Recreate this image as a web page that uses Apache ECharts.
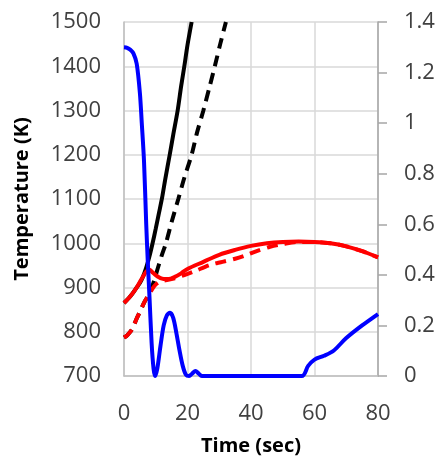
<!DOCTYPE html>
<html>
<head>
<meta charset="utf-8">
<script src="https://cdn.jsdelivr.net/npm/echarts@6/dist/echarts.min.js"></script>
<style>html,body{margin:0;padding:0;background:#fff}#c{width:441px;height:461px}</style>
</head>
<body>
<div id="c"></div>
<script>
// Data
const redSolidT  = [0,2,4,6,7,8,9,10,11,12,13,14,16,18,20,25,30,35,40,45,50,55,60,65,70,75,80];
const redSolidV  = [865,880,900,925,936,940,934,928,923,920,919,919,924,932,942,958,974,985,994,1000,1003,1004,1003,1000,993,982,968];
const redDashT   = [0,1,2.5,4,5,6.5,8,9.5,11,13,16,19,22,27,31,35,38,42,46,50,55,60,65,70,75,80];
const redDashV   = [787,792,805,830,845,868,886,903,912,916,921,928,936,951,958,965,972,983,992,998,1003,1003,1000,993,982,968];
const blackSolidT = [0,2,4,5,6,7,8,9,10,11,12,13,14.4,15.5,16.9,18,19,20,21.3];
const blackSolidV = [865,880,900,910,925,945,970,1000,1033,1068,1103,1145,1200,1245,1300,1355,1400,1448,1500];
const blackDashT = [0,1,2.5,4,5,6.5,8,9,10,11,12,13.2,15,17.1,19,21.3,23,25,27,28.6,30.3,32.1];
const blackDashV = [787,792,805,830,845,868,886,905,928,952,975,1000,1048,1100,1148,1200,1250,1300,1355,1400,1450,1500];
const blueT = [0,1,2,3,4,5,5.6,6.3,7,7.5,8,8.7,9.3,9.8,10.5,11.5,12.5,13.5,14.5,15.5,16.5,17.5,18.5,19.5,20.5,21.5,22.5,23.5,24.5,56,58,60,63,66,70,75,80];
const blueV = [1.3,1.298,1.29,1.275,1.235,1.12,1.0,0.85,0.6,0.45,0.32,0.13,0.03,0,0.03,0.12,0.2,0.24,0.25,0.23,0.17,0.1,0.04,0.005,0,0.01,0.02,0.01,0,0,0.04,0.065,0.08,0.1,0.15,0.2,0.245];
const xTicks = [0,20,40,60,80];
const leftTicks = [700,800,900,1000,1100,1200,1300,1400,1500];
const rightTicks = [0,0.2,0.4,0.6,0.8,1,1.2,1.4];

function pairs(t, v){ return t.map((x,i)=>[x, v[i]]); }

const FONT = '"Open Sans", "Noto Sans", sans-serif';
const chart = echarts.init(document.getElementById('c'));
chart.setOption({
  animation: false,
  backgroundColor: '#ffffff',
  grid: {left: 124, right: 63, top: 22, bottom: 80, containLabel: false},
  xAxis: {
    type: 'value', min: xTicks[0], max: xTicks[xTicks.length-1], interval: 20,
    name: 'Time (sec)', nameLocation: 'middle', nameGap: 60,
    nameTextStyle: {fontFamily: FONT, fontSize: 20, fontWeight: 'bold', color: '#000'},
    axisLine: {show: true, lineStyle: {color: '#bfbfbf', width: 1.5}},
    axisTick: {show: false},
    axisLabel: {fontFamily: FONT, fontSize: 22, color: '#404040', margin: 27, formatter: v => String(v)},
    splitLine: {show: true, lineStyle: {color: '#d9d9d9', width: 1.5}}
  },
  yAxis: [{
    type: 'value', min: leftTicks[0], max: leftTicks[leftTicks.length-1], interval: 100,
    name: 'Temperature (K)', nameLocation: 'middle', nameGap: 92, nameRotate: 90,
    nameTextStyle: {fontFamily: FONT, fontSize: 20, fontWeight: 'bold', color: '#000'},
    axisLine: {show: true, lineStyle: {color: '#bfbfbf', width: 1.5}},
    axisTick: {show: false},
    axisLabel: {fontFamily: FONT, fontSize: 22, color: '#404040', margin: 23, formatter: v => String(v)},
    splitLine: {show: true, lineStyle: {color: '#d9d9d9', width: 1.5}}
  },{
    type: 'value', position: 'right', min: rightTicks[0], max: rightTicks[rightTicks.length-1], interval: 0.2,
    axisLine: {show: true, lineStyle: {color: '#a6a6a6', width: 1.5}},
    axisTick: {show: true, inside: false, length: 9, lineStyle: {color: '#a6a6a6', width: 1.5}},
    axisLabel: {fontFamily: FONT, fontSize: 22, color: '#404040', margin: 26, formatter: v => String(Math.round(v*10)/10)},
    splitLine: {show: false}
  }],
  series: [
    {type: 'line', yAxisIndex: 0, data: pairs(blackDashT, blackDashV), showSymbol: false, smooth: 0.3,
     lineStyle: {color: '#000', width: 4, type: [11, 7]}, z: 2},
    {type: 'line', yAxisIndex: 0, data: pairs(blackSolidT, blackSolidV), showSymbol: false, smooth: 0.3,
     lineStyle: {color: '#000', width: 4}, z: 3},
    {type: 'line', yAxisIndex: 0, data: pairs(redDashT, redDashV), showSymbol: false, smooth: 0.3,
     lineStyle: {color: '#ff0000', width: 4, type: [11, 7]}, z: 4},
    {type: 'line', yAxisIndex: 0, data: pairs(redSolidT, redSolidV), showSymbol: false, smooth: 0.3,
     lineStyle: {color: '#ff0000', width: 4}, z: 5},
    {type: 'line', yAxisIndex: 1, data: pairs(blueT, blueV), showSymbol: false, smooth: 0.3,
     lineStyle: {color: '#0000ff', width: 4}, z: 6}
  ]
});
</script>
</body>
</html>
